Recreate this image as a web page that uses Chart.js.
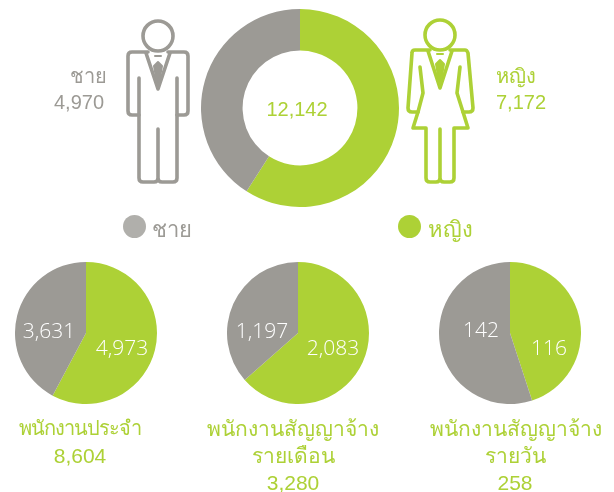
<!DOCTYPE html>
<html lang="th">
<head>
<meta charset="utf-8">
<title>พนักงาน</title>
<script src="https://cdn.jsdelivr.net/npm/chart.js@4"></script>
<style>
  html, body { margin: 0; padding: 0; background: #fff; }
  #page { position: relative; width: 614px; height: 492px; overflow: hidden; font-family: "Liberation Sans", "Noto Sans", sans-serif; }
  #page canvas { position: absolute; }
  .t { position: absolute; white-space: nowrap; transform: translate(-50%, -50%); line-height: 1; }
  .green { color: #add136; }
  .grey { color: #9c9a95; }
  .white { color: #fff; font-family: "Open Sans", sans-serif; font-weight: 300; }
  .dot { position: absolute; width: 23px; height: 23px; border-radius: 50%; }
  svg { position: absolute; left: 0; top: 0; }
  svg path, svg circle { fill: none; stroke-width: 3.6; stroke-linejoin: round; stroke-linecap: round; }
</style>
</head>
<body>
<div id="page">
  <canvas id="chartAll"></canvas>
  <canvas id="chartPermanent"></canvas>
  <canvas id="chartMonthly"></canvas>
  <canvas id="chartDaily"></canvas>
  <svg width="614" height="492">
    <g stroke="#9c9a95">
      <circle cx="158" cy="36" r="15"/>
      <path d="M148 52 H132 Q128 52 128 56 V111 Q128 115 132 115 H139 V178 Q139 182 143 182 H154 Q158 182 158 178 V129 V178 Q158 182 162 182 H173 Q177 182 177 178 V115 H184 Q188 115 188 111 V56 Q188 52 184 52 H168"/>
      <path d="M139 78 V115 M177 78 V115"/>
      <path d="M146 53 L158 89 L170 53"/>
    </g>
    <path d="M158 62 L154 66 L158 88 L162 66 Z M155 56 H161" style="fill:#9c9a95;stroke:#9c9a95;stroke-width:2"/>
    <g stroke="#add136">
      <circle cx="440" cy="35" r="15"/>
      <path d="M430 50 H415 Q412 50 412 53 L408 108 Q408 112 412 112 H418 L413 128 H426 V178 Q426 182 430 182 H436 Q440 182 440 178 V129 V178 Q440 182 444 182 H450 Q454 182 454 178 V128 H468 L463 112 H469 Q473 112 473 108 L468 53 Q467 50 465 50 H450"/>
      <path d="M420 67 L423 93 L418 112 M460 67 L457 93 L463 112"/>
      <path d="M428 51 L440 88 L452 51"/>
    </g>
    <path d="M440 60 L436 64 L440 87 L444 64 Z M437 54 H443" style="fill:#add136;stroke:#add136;stroke-width:2"/>
  </svg>
  <span class="t grey" style="left:88px;top:76px;font-size:20px">ชาย</span>
  <span class="t grey" style="left:79px;top:102px;font-size:20px">4,970</span>
  <span class="t green" style="left:516px;top:76px;font-size:20px">หญิง</span>
  <span class="t green" style="left:521px;top:102px;font-size:20px">7,172</span>
  <span class="t green" style="left:297px;top:109px;font-size:20px">12,142</span>
  <div class="dot" style="left:123px;top:215px;background:#b0afab"></div>
  <span class="t grey" style="left:172px;top:230px;font-size:22px">ชาย</span>
  <div class="dot" style="left:398px;top:215px;background:#add136"></div>
  <span class="t green" style="left:450px;top:230px;font-size:22px">หญิง</span>
  <span class="t white" style="left:49px;top:330px;font-size:21px">3,631</span>
  <span class="t white" style="left:122px;top:347px;font-size:21px">4,973</span>
  <span class="t white" style="left:262px;top:330px;font-size:21px">1,197</span>
  <span class="t white" style="left:333px;top:347px;font-size:21px">2,083</span>
  <span class="t white" style="left:481px;top:329px;font-size:21px">142</span>
  <span class="t white" style="left:549px;top:347px;font-size:21px">116</span>
  <span class="t green" style="left:80px;top:428px;font-size:20px;letter-spacing:-1px">พนักงานประจำ</span>
  <span class="t green" style="left:80px;top:455px;font-size:21px">8,604</span>
  <span class="t green" style="left:293px;top:428px;font-size:21px">พนักงานสัญญาจ้าง</span>
  <span class="t green" style="left:293px;top:455px;font-size:21px">รายเดือน</span>
  <span class="t green" style="left:293px;top:482px;font-size:21px">3,280</span>
  <span class="t green" style="left:516px;top:428px;font-size:21px">พนักงานสัญญาจ้าง</span>
  <span class="t green" style="left:515px;top:455px;font-size:21px">รายวัน</span>
  <span class="t green" style="left:515px;top:482px;font-size:21px">258</span>
</div>
<script>
var genders = ['หญิง', 'ชาย'];
var sliceColors = ['#add136', '#9c9a95'];

var allStaff = [7172, 4970];
var permanentStaff = [4973, 3631];
var monthlyStaff = [2083, 1197];
var dailyStaff = [116, 142];

function makePie(id, values, left, top, size, cutout) {
    var el = document.getElementById(id);
    el.style.left = left + 'px';
    el.style.top = top + 'px';
    el.style.width = size + 'px';
    el.style.height = size + 'px';
    el.width = size;
    el.height = size;
    return new Chart(el, {
        type: 'doughnut',
        data: {
            labels: genders,
            datasets: [{ data: values, backgroundColor: sliceColors, borderWidth: 0 }]
        },
        options: {
            responsive: false,
            animation: false,
            cutout: cutout,
            layout: { padding: 0 },
            plugins: { legend: { display: false }, tooltip: { enabled: false } }
        }
    });
}

makePie('chartAll', allStaff, 201, 9, 198, '58%');
makePie('chartPermanent', permanentStaff, 15, 262, 142, 0);
makePie('chartMonthly', monthlyStaff, 227, 262, 142, 0);
makePie('chartDaily', dailyStaff, 439, 262, 142, 0);
</script>
</body>
</html>
